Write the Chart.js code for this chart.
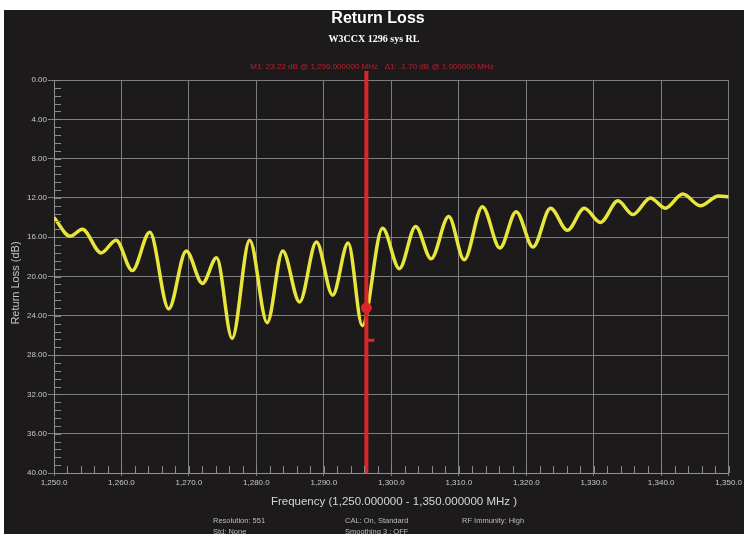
<!DOCTYPE html>
<html>
<head>
<meta charset="utf-8">
<style>
  html, body { margin: 0; padding: 0; background: #fff; }
  #rl { display: block; }
</style>
<script src="https://cdn.jsdelivr.net/npm/chart.js@4/dist/chart.umd.min.js"></script>
</head>
<body>
<canvas id="rl" width="744" height="534"></canvas>
<script>
// return loss sweep, W3CCX 1296 system
const freqs = [1250, 1252.4, 1254.2, 1257.0, 1259.2, 1261.6, 1264.2, 1267.0, 1269.6, 1272.0,
  1274.1, 1276.4, 1279.0, 1281.6, 1283.9, 1286.4, 1288.9, 1291.3, 1293.6, 1295.7,
  1298.7, 1301.2, 1303.6, 1305.9, 1308.5, 1310.8, 1313.5, 1316.1, 1318.5, 1321.0,
  1323.6, 1326.1, 1328.6, 1331.0, 1333.6, 1335.8, 1338.4, 1340.6, 1343.2, 1345.8, 1348.5, 1350];
const returnLoss = [14.0, 15.9, 15.2, 17.6, 16.3, 19.4, 15.5, 23.3, 17.4, 20.7,
  18.1, 26.3, 16.3, 24.7, 17.4, 22.6, 16.5, 21.9, 16.6, 25.0,
  15.1, 19.2, 14.9, 18.2, 13.9, 18.3, 12.9, 17.1, 13.4, 17.0,
  13.05, 15.3, 13.05, 14.5, 12.3, 13.7, 12.0, 13.05, 11.6, 12.8, 11.8, 11.9];

const markerFreq = 1296.3;
const markerDb = 23.2;
const deltaDb = 26.5;
const markerText = 'M1: 23.22 dB @ 1,296.000000 MHz   \u03941: -1.70 dB @ 1.000000 MHz';

const yTicks = [0, 4, 8, 12, 16, 20, 24, 28, 32, 36, 40];
const xTicks = [1250, 1260, 1270, 1280, 1290, 1300, 1310, 1320, 1330, 1340, 1350];
const footerRow1 = ['Resolution: 551', 'CAL: On, Standard', 'RF Immunity: High'];
const footerRow2 = ['Std: None', 'Smoothing 3 : OFF', ''];

const fmtFreq = v => {
  const s = v.toFixed(1);
  const [i, d] = s.split('.');
  return i.replace(/\B(?=(\d{3})+(?!\d))/g, ',') + '.' + d;
};

const BG = '#1d1a1b';

// background + white margins like the screenshot
const bgPlugin = {
  id: 'bg',
  beforeDraw(chart) {
    const c = chart.ctx;
    c.save();
    c.fillStyle = '#fff';
    c.fillRect(0, 0, chart.width, chart.height);
    c.fillStyle = BG;
    c.fillRect(4, 10, chart.width - 4, chart.height - 10);
    c.restore();
  }
};

// minor ticks inside the plot area
const minorTicks = {
  id: 'minorTicks',
  afterDraw(chart) {
    const c = chart.ctx, a = chart.chartArea;
    const xs = chart.scales.x, ys = chart.scales.y;
    c.save();
    c.strokeStyle = '#8a8a8a';
    c.lineWidth = 1;
    c.beginPath();
    for (let v = 0; v <= 40.001; v += 0.8) {
      const y = Math.round(ys.getPixelForValue(v)) + 0.5;
      c.moveTo(a.left, y); c.lineTo(a.left + 7, y);
    }
    for (let f = 1250; f <= 1350; f += 2) {
      const x = Math.round(xs.getPixelForValue(f)) + 0.5;
      c.moveTo(x, a.bottom); c.lineTo(x, a.bottom - 7);
    }
    c.stroke();
    c.restore();
  }
};

// red marker line
const markerLine = {
  id: 'markerLine',
  afterDatasetsDraw(chart) {
    const c = chart.ctx, a = chart.chartArea;
    const x = chart.scales.x.getPixelForValue(markerFreq);
    c.save();
    c.strokeStyle = '#d8262a';
    c.lineWidth = 4;
    c.beginPath();
    c.moveTo(x, a.top - 9);
    c.lineTo(x, a.bottom);
    c.stroke();
    c.restore();
  }
};

// all the texts
const texts = {
  id: 'texts',
  afterDraw(chart) {
    const c = chart.ctx, a = chart.chartArea;
    const cx = (a.left + a.right) / 2;
    c.save();
    c.textAlign = 'center';
    c.textBaseline = 'middle';
    c.fillStyle = '#ffffff';
    c.font = 'bold 16px "Liberation Sans", Arial, sans-serif';
    c.fillText('Return Loss', 378, 19);
    c.font = 'bold 10px "Liberation Serif", "Times New Roman", serif';
    c.fillText('W3CCX 1296 sys RL', 374, 39);

    c.fillStyle = '#b8202a';
    c.font = '8px "Liberation Sans", Arial, sans-serif';
    c.fillText(markerText, 372, 67);

    c.fillStyle = '#d6d6d6';
    c.font = '11.5px "Liberation Sans", Arial, sans-serif';
    c.fillText('Frequency (1,250.000000 - 1,350.000000 MHz )', 394, 502);

    c.fillStyle = '#bcbcbc';
    c.font = '7.5px "Liberation Sans", Arial, sans-serif';
    c.textAlign = 'left';
    const cols = [213, 345, 462];
    footerRow1.forEach((t, i) => c.fillText(t, cols[i], 521));
    footerRow2.forEach((t, i) => c.fillText(t, cols[i], 532));

    c.fillStyle = '#c4c4c4';
    c.font = '11px "Liberation Sans", Arial, sans-serif';
    c.translate(16, 283);
    c.rotate(-Math.PI / 2);
    c.textAlign = 'center';
    c.fillText('Return Loss (dB)', 0, 0);
    c.restore();
  }
};

new Chart(document.getElementById('rl'), {
  type: 'line',
  data: {
    datasets: [
      {
        data: [{ x: markerFreq, y: markerDb }],
        showLine: false,
        pointRadius: 5,
        pointBackgroundColor: '#e0262a',
        pointBorderColor: '#e0262a',
        order: 0
      },
      {
        data: [{ x: markerFreq, y: deltaDb }],
        showLine: false,
        pointStyle: 'dash',
        pointRadius: 8,
        pointBorderWidth: 3,
        pointBorderColor: '#e0262a',
        order: 0
      },
      {
        data: freqs.map((f, i) => ({ x: f, y: returnLoss[i] })),
        borderColor: '#e8e63c',
        borderWidth: 3.5,
        pointRadius: 0,
        cubicInterpolationMode: 'monotone',
        fill: false,
        order: 1
      }
    ]
  },
  options: {
    responsive: false,
    animation: false,
    layout: { padding: { top: 80, right: 14, bottom: 41, left: 4 } },
    plugins: { legend: { display: false }, tooltip: { enabled: false } },
    scales: {
      x: {
        type: 'linear',
        min: 1250, max: 1350,
        afterBuildTicks: s => { s.ticks = xTicks.map(v => ({ value: v })); },
        afterFit: s => { s.height = 20; },
        ticks: {
          color: '#c8c8c8',
          font: { size: 8, family: '"Liberation Sans", Arial, sans-serif' },
          padding: 2,
          maxRotation: 0,
          autoSkip: false,
          callback: v => fmtFreq(v)
        },
        grid: { color: '#7e7e7e', lineWidth: 1, tickLength: 3 },
        border: { color: '#909090' }
      },
      y: {
        min: 0, max: 40,
        reverse: true,
        afterBuildTicks: s => { s.ticks = yTicks.map(v => ({ value: v })); },
        afterFit: s => { s.width = 50; },
        ticks: {
          color: '#c8c8c8',
          font: { size: 8, family: '"Liberation Sans", Arial, sans-serif' },
          padding: 1,
          callback: v => v.toFixed(2)
        },
        grid: { color: '#7e7e7e', lineWidth: 1, tickLength: 6 },
        border: { color: '#909090' }
      }
    }
  },
  plugins: [bgPlugin, minorTicks, markerLine, texts]
});
</script>
</body>
</html>
